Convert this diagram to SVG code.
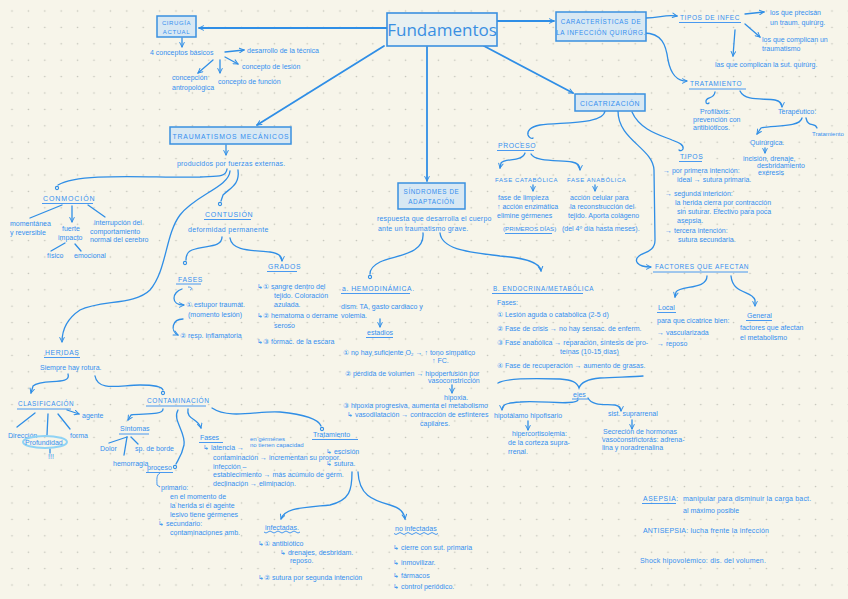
<svg xmlns="http://www.w3.org/2000/svg" width="848" height="599" viewBox="0 0 848 599">
<defs>
<pattern id="dots" x="3.8" y="2.8" width="16.4" height="16.4" patternUnits="userSpaceOnUse"><circle cx="8.2" cy="8.2" r="0.8" fill="#bfbfb6"/></pattern>
<marker id="ar" viewBox="0 0 8 8" refX="7" refY="4" markerWidth="6" markerHeight="6" orient="auto" markerUnits="userSpaceOnUse"><path d="M1,1 L7,4 L1,7" fill="none" stroke="#2f8ee6" stroke-width="1.3" stroke-linecap="round"/></marker>
<style>
.t{font-family:"Liberation Sans",Arial,sans-serif;font-size:7px;fill:#348ff0}
.c{font-family:"Liberation Sans",Arial,sans-serif;font-size:6.8px;fill:#348ff0;letter-spacing:0.6px}
.ln{stroke:#2f8ee6;stroke-width:1.3;fill:none;stroke-linecap:round}
.big{stroke:#2f8ee6;stroke-width:1.8;fill:none;stroke-linecap:round}
.ul{stroke:#348ff0;stroke-width:0.9;fill:none}
.box{fill:#d8e8f3;stroke:#3a90e0;stroke-width:1.5}
.dot{fill:none;stroke:#2f8ee6;stroke-width:1.1}
</style>
</defs>
<rect width="848" height="599" fill="#f7f5ea"/>
<rect width="848" height="599" fill="url(#dots)"/>

<g id="connectors">
<path class="big" d="M387,28 L199,28" marker-end="url(#ar)"/>
<path class="big" d="M384,46 L257,125" marker-end="url(#ar)"/>
<path class="big" d="M427,47 L427,181" marker-end="url(#ar)"/>
<path class="big" d="M484,46 L573,93" marker-end="url(#ar)"/>
<path class="big" d="M497,21 L554,21" marker-end="url(#ar)"/>
<path class="ln" d="M182,38 L182,47" marker-end="url(#ar)"/>
<path class="ln" d="M225,52 L244,50" marker-end="url(#ar)"/>
<path class="ln" d="M225,57 L238,64" marker-end="url(#ar)"/>
<path class="ln" d="M220,60 L220,73" marker-end="url(#ar)"/>
<path class="ln" d="M213,60 L198,73" marker-end="url(#ar)"/>
<path class="ln" d="M226,145 L226,155" marker-end="url(#ar)"/>
<path class="ln" d="M227,169 C226,178 215,176 200,177 C150,178 80,172 58,185"/>
<circle class="dot" cx="57" cy="188" r="1.6"/>
<path class="ln" d="M230,171 C229,187 195,195 180,215 C165,235 167,270 150,290 C135,305 100,300 80,310 C68,318 62,328 62,342" marker-end="url(#ar)"/>
<path class="ln" d="M238,170 C240,185 230,188 223,195 L221,201"/>
<circle class="dot" cx="220" cy="204" r="1.6"/>
<path class="ln" d="M62,205 L30,218"/>
<path class="ln" d="M72,206 L72,222" marker-end="url(#ar)"/>
<path class="ln" d="M88,205 L105,217"/>
<path class="ln" d="M65,243 L51,251"/>
<path class="ln" d="M75,244 L81,251"/>
<path class="ln" d="M222,237 C222,248 205,245 192,250 C187,252 186,256 186,260"/>
<circle class="dot" cx="185" cy="263" r="1.6"/>
<path class="ln" d="M230,238 C232,252 255,250 270,252 C278,253 282,256 282,261" marker-end="url(#ar)"/>
<path class="ln" d="M182,289 C172,292 170,305 184,305" marker-end="url(#ar)"/>
<path class="ln" d="M183,319 C172,319 170,331 178,335" marker-end="url(#ar)"/>
<path class="ln" d="M68,374 C72,386 42,378 33,386 L31,393" marker-end="url(#ar)"/>
<path class="ln" d="M95,376 C98,392 120,385 140,385 C155,385 162,387 163,390"/>
<circle class="dot" cx="163" cy="393" r="1.6"/>
<path class="ln" d="M35,413 L17,427"/>
<path class="ln" d="M48,414 L47,435"/>
<path class="ln" d="M58,414 L70,429"/>
<path class="ln" d="M67,410 L79,414" marker-end="url(#ar)"/>
<path class="ln" d="M50,449 L50,453"/>
<path class="ln" d="M163,409 C163,416 140,413 131,415 L128,420" marker-end="url(#ar)"/>
<path class="ln" d="M127,437 L109,443"/>
<path class="ln" d="M127,437 L124,455"/>
<path class="ln" d="M131,437 L138,444"/>
<path class="ln" d="M178,410 C172,420 186,432 184,445 C182,455 178,460 176,464"/>
<circle class="dot" cx="175" cy="467" r="1.6"/>
<path class="ln" d="M188,409 C186,420 198,418 201,428" marker-end="url(#ar)"/>
<path class="ln" d="M212,408 C230,420 260,410 280,412 C300,414 318,418 321,426"/>
<circle class="dot" cx="322" cy="429" r="1.6"/>
<path class="ln" d="M352,472 C352,490 350,500 330,505 C300,508 285,508 281,519" marker-end="url(#ar)"/>
<path class="ln" d="M358,472 C359,495 372,500 390,505 C400,508 404,512 405,519" marker-end="url(#ar)"/>
<path class="ln" d="M423,233 C425,255 395,255 380,262 C372,266 370,270 370,274"/>
<circle class="dot" cx="370" cy="277" r="1.6"/>
<path class="ln" d="M440,233 C442,250 470,252 500,256 C525,258 540,262 541,271" marker-end="url(#ar)"/>
<path class="ln" d="M380,319 L380,327" marker-end="url(#ar)"/>
<path class="ln" d="M452,385 L452,393" marker-end="url(#ar)"/>
<path class="ln" d="M498,383 C505,378 530,378 560,379 C572,380 577,382 579,388 C581,382 588,379 600,378 C620,377 635,377 643,376"/>
<path class="ln" d="M578,400 C575,406 540,400 520,402 C505,403 502,405 502,410" marker-end="url(#ar)"/>
<path class="ln" d="M588,398 C592,406 605,404 615,405 C620,406 621,408 621,411" marker-end="url(#ar)"/>
<path class="ln" d="M528,421 L528,430" marker-end="url(#ar)"/>
<path class="ln" d="M632,420 L632,429" marker-end="url(#ar)"/>
<path class="ln" d="M605,111 C603,125 560,122 540,125 C530,127 527,131 528,135 C529,138 532,139 533,138"/>
<path class="ln" d="M525,153 C522,162 505,158 501,163 L500,168" marker-end="url(#ar)"/>
<path class="ln" d="M531,154 C535,162 560,160 572,162 C578,163 580,166 580,170" marker-end="url(#ar)"/>
<path class="ln" d="M533,185 L533,191" marker-end="url(#ar)"/>
<path class="ln" d="M595,185 L595,191" marker-end="url(#ar)"/>
<path class="ln" d="M646,18 C660,18 665,14 677,16" marker-end="url(#ar)"/>
<path class="ln" d="M745,14 L764,12" marker-end="url(#ar)"/>
<path class="ln" d="M745,24 L760,37" marker-end="url(#ar)"/>
<path class="ln" d="M735,30 L733,56" marker-end="url(#ar)"/>
<path class="ln" d="M644,33 C662,33 666,45 668,60 C671,75 677,81 687,81" marker-end="url(#ar)"/>
<path class="ln" d="M715,92 C714,100 705,96 706,102 C706,104 708,104 709,103"/>
<path class="ln" d="M740,91 C745,102 765,98 775,100 C780,101 782,104 782,107" marker-end="url(#ar)"/>
<path class="ln" d="M802,118 C800,128 770,125 761,128 L757,134" marker-end="url(#ar)"/>
<path class="ln" d="M806,118 C808,128 815,122 817,128"/>
<path class="ln" d="M765,148 L765,153" marker-end="url(#ar)"/>
<path class="ln" d="M632,112 C640,130 660,135 672,140 C680,143 684,145 683,149 C682,151 680,151 679,150"/>
<path class="ln" d="M618,111 C618,140 653,148 654,170 L655,240 C655,252 644,252 639,256 C634,260 636,267 651,267" marker-end="url(#ar)"/>
<path class="ln" d="M707,276 C707,290 680,285 676,292 L675,297" marker-end="url(#ar)"/>
<path class="ln" d="M731,276 C733,295 752,290 755,300 L755,306" marker-end="url(#ar)"/>
</g>

<g id="fundamentos"><rect x="387" y="13" width="110" height="33" fill="#e8f0f1" stroke="#3a90e0" stroke-width="1.6"/><text x="442" y="36" text-anchor="middle" style="font-family:'Open Sans','Liberation Sans',sans-serif;font-size:17px;fill:#3a8fe2">Fundamentos</text></g>

<g id="cirugia"><rect class="box" x="157" y="16" width="39" height="21"/><text class="c" x="176.5" y="25" text-anchor="middle" style="font-size:6px">CIRUGÍA</text><text class="c" x="176.5" y="34" text-anchor="middle" style="font-size:6px">ACTUAL</text>
<text class="t" x="150" y="54.5">4 conceptos básicos</text>
<text class="t" x="247" y="53">desarrollo de la técnica</text>
<text class="t" x="242" y="68.5">concepto de lesión</text>
<text class="t" x="218" y="83.5">concepto de función</text>
<text class="t" x="172" y="80">concepción</text><text class="t" x="172" y="89.5">antropológica</text></g>

<g id="traumatismos"><rect class="box" x="170" y="127" width="121" height="17"/><text class="c" x="231" y="138.5" text-anchor="middle" style="letter-spacing:0.9px">TRAUMATISMOS MECÁNICOS</text>
<text class="t" x="177" y="165.5" style="letter-spacing:0.2px">producidos por fuerzas externas.</text></g>

<g id="conmocion"><text class="c" x="43" y="200.5" style="font-size:7px;letter-spacing:0.9px">CONMOCIÓN</text><path class="ul" d="M42,203.5 L93,203.5"/>
<text class="t" x="10" y="225.5">momentánea</text><text class="t" x="10" y="235">y reversible</text>
<text class="t" x="62" y="231">fuerte</text><text class="t" x="58" y="239.5">impacto</text>
<text class="t" x="47" y="258">físico</text><text class="t" x="74" y="258">emocional</text>
<text class="t" x="94" y="225">interrupción del</text><text class="t" x="90" y="233.5">comportamiento</text><text class="t" x="90" y="242">normal del cerebro</text></g>

<g id="contusion"><text class="c" x="205" y="216.5" style="font-size:7px;letter-spacing:0.7px">CONTUSIÓN</text><path class="ul" d="M204,219.5 L251,219.5"/>
<text class="t" x="188" y="231.5" style="letter-spacing:0.3px">deformidad permanente</text>
<text class="c" x="178" y="281.5">FASES</text><path class="ul" d="M176,284 L201,284"/><path class="ul" d="M188,287 C192,287 193,289 190,290"/>
<text class="t" x="186" y="307">① estupor traumát.</text><text class="t" x="188" y="317">(momento lesión)</text>
<text class="t" x="180" y="337.5">② resp. inflamatoria</text>
<text class="c" x="268" y="268.5">GRADOS</text><path class="ul" d="M267,271.5 L297,271.5"/>
<text class="t" x="257" y="288.5">↳① sangre dentro del</text><text class="t" x="274" y="297.5">tejido. Coloración</text><text class="t" x="274" y="306.5">azulada.</text>
<text class="t" x="257" y="318">↳② hematoma o derrame</text><text class="t" x="274" y="327.5">seroso</text>
<text class="t" x="257" y="344">↳③ formac. de la escara</text></g>

<g id="heridas"><text class="c" x="45" y="354.5">HERIDAS</text><path class="ul" d="M44,357.5 L80,357.5"/>
<text class="t" x="40" y="369.5">Siempre hay rotura.</text>
<text class="c" x="18" y="405.5" style="font-size:6.3px">CLASIFICACIÓN</text><path class="ul" d="M17,409 L71,409"/>
<text class="t" x="8" y="437.5">Dirección</text>
<ellipse cx="45" cy="442" rx="22" ry="6" fill="none" stroke="#8fd3f5" stroke-width="2"/>
<text class="t" x="25" y="444.5">Profundidad</text>
<text class="t" x="70" y="437.5">forma</text>
<text class="t" x="82" y="418">agente</text>
<text class="t" x="48" y="459">!!!</text></g>

<g id="contaminacion"><text class="c" x="147" y="402.5" style="font-size:6.5px">CONTAMINACIÓN</text><path class="ul" d="M146,406 L206,406"/>
<text class="t" x="120" y="431">Síntomas</text><path class="ul" d="M119,434 L149,434"/>
<text class="t" x="100" y="451">Dolor</text><text class="t" x="135" y="451">sp. de borde</text><text class="t" x="113" y="465.5">hemorragia</text>
<text class="t" x="147" y="469.5">proceso</text><path class="ul" d="M146,472.5 L173,472.5"/>
<path class="ul" d="M160,473 C156,475 157,480 157,485 L160,487"/>
<text class="t" x="161" y="489.5">primario:</text>
<text class="t" x="170" y="498.5">en el momento de</text><text class="t" x="170" y="507.5">la herida si el agente</text><text class="t" x="170" y="516.5">lesivo tiene gérmenes</text>
<text class="t" x="158" y="525.5">↳ secundario:</text><text class="t" x="170" y="534.5">contaminaciones amb.</text>
<text class="t" x="200" y="439.5">Fases</text><path class="ul" d="M199,442.5 L223,442.5"/>
<text class="t" x="203" y="449.5">↳ latencia →</text><text class="t" x="250" y="440.5" style="font-size:6px">en gérmenes</text><text class="t" x="250" y="447" style="font-size:6px">no tienen capacidad</text>
<text class="t" x="213" y="459.5">contaminación → incrementan su propor.</text>
<text class="t" x="213" y="468.5">infección –</text>
<text class="t" x="213" y="477">establecimiento → más acúmulo de gérm.</text>
<text class="t" x="213" y="485.5">declinación → eliminación.</text>
<text class="t" x="313" y="436.5">Tratamiento</text><path class="ul" d="M312,439.5 L358,439.5"/>
<text class="t" x="326" y="453.5">↳ escisión</text><text class="t" x="326" y="465.5">↳ sutura.</text>
<text class="t" x="265" y="529.5">infectadas.</text><path class="ul" d="M264,532 q2,2 4,0 t4,0 t4,0 t4,0 t4,0 t4,0 t4,0 t4,0 t4,0"/>
<text class="t" x="258" y="545.5">↳① antibiótico</text>
<text class="t" x="280" y="554.5">↳ drenajes, desbridam.</text><text class="t" x="290" y="562.5">reposo.</text>
<text class="t" x="258" y="579.5">↳② sutura por segunda intención</text>
<text class="t" x="395" y="530.5">no infectadas</text><path class="ul" d="M394,533.5 q2,2 4,0 t4,0 t4,0 t4,0 t4,0 t4,0 t4,0 t4,0 t4,0 t4,0 t4,0"/>
<text class="t" x="393" y="549.5">↳ cierre con sut. primaria</text>
<text class="t" x="393" y="564.5">↳ inmovilizar.</text>
<text class="t" x="393" y="577.5">↳ fármacos</text>
<text class="t" x="393" y="588.5">↳ control periódico.</text></g>

<g id="sindromes"><rect class="box" x="398" y="183" width="67" height="26"/><text class="c" x="431.5" y="194" text-anchor="middle" style="font-size:6.3px">SÍNDROMES DE</text><text class="c" x="431.5" y="204" text-anchor="middle" style="font-size:6.3px">ADAPTACIÓN</text>
<text class="t" x="377" y="220.5" style="letter-spacing:0.2px">respuesta que desarrolla el cuerpo</text><text class="t" x="378" y="230.5" style="letter-spacing:0.2px">ante un traumatismo grave.</text></g>

<g id="hemodinamica"><text class="c" x="342" y="290.5">a. HEMODINÁMICA.</text><path class="ul" d="M341,293.5 L410,293.5"/>
<text class="t" x="341" y="309">dism. TA, gasto cardiaco y</text><text class="t" x="341" y="317.5">volemia.</text>
<text class="t" x="367" y="334.5">estadios</text><path class="ul" d="M366,337.5 L393,337.5"/>
<text class="t" x="343" y="354.5">① no hay suficiente O₂ → ↑ tono simpático</text><text class="t" x="432" y="362.5">↑ FC.</text>
<text class="t" x="345" y="375.5">② pérdida de volumen → hipoperfusión por</text><text class="t" x="428" y="383">vasoconstricción</text>
<text class="t" x="444" y="399.5">hipoxia.</text>
<text class="t" x="343" y="407.5">③ hipoxia progresiva, aumenta el metabolismo</text>
<text class="t" x="347" y="417">↳ vasodilatación → contracción de esfínteres</text><text class="t" x="420" y="425.5">capilares.</text></g>

<g id="endocrina"><text class="c" x="493" y="290.5" style="font-size:6.3px">B. ENDOCRINA/METABÓLICA</text><path class="ul" d="M492,293.5 L583,293.5"/>
<text class="t" x="497" y="304.5">Fases:</text>
<text class="t" x="497" y="316.5">① Lesión aguda o catabólica (2-5 d)</text>
<text class="t" x="497" y="330.5">② Fase de crisis → no hay sensac. de enferm.</text>
<text class="t" x="497" y="345">③ Fase anabólica → reparación, síntesis de pro-</text><text class="t" x="560" y="353.5">teínas (10-15 días)</text>
<text class="t" x="497" y="367.5">④ Fase de recuperación → aumento de grasas.</text>
<text class="t" x="573" y="396.5">ejes</text><path class="ul" d="M572,399 L588,399"/>
<text class="t" x="494" y="417.5">hipotálamo hipofisario</text>
<text class="t" x="512" y="436">hipercortisolemia:</text><text class="t" x="508" y="445">de la corteza supra-</text><text class="t" x="508" y="454">rrenal.</text>
<text class="t" x="608" y="415.5">sist. suprarrenal</text>
<text class="t" x="603" y="434">Secreción de hormonas</text><text class="t" x="602" y="442">vasoconstrictoras: adrena-</text><text class="t" x="602" y="450">lina y noradrenalina</text></g>

<g id="caracteristicas"><rect class="box" x="556" y="12" width="90" height="29"/><text class="c" x="601" y="23.5" text-anchor="middle" style="font-size:6.3px">CARACTERÍSTICAS DE</text><text class="c" x="601" y="35" text-anchor="middle" style="font-size:6.3px">LA INFECCIÓN QUIRÚRG.</text>
<text class="c" x="680" y="19.5" style="font-size:6.5px">TIPOS DE INFEC</text><path class="ul" d="M679,22.5 L741,22.5"/>
<text class="t" x="770" y="15">los que precisan</text><text class="t" x="770" y="25">un traum. quirúrg.</text>
<text class="t" x="762" y="42">los que complican un</text><text class="t" x="762" y="51">traumatismo</text>
<text class="t" x="715" y="66.5">las que complican la sut. quirúrg.</text>
<text class="c" x="690" y="86" style="font-size:6.5px">TRATAMIENTO</text><path class="ul" d="M689,89 L746,89"/>
<text class="t" x="700" y="114">Profilaxis:</text><text class="t" x="693" y="122">prevención con</text><text class="t" x="693" y="130">antibióticos.</text>
<text class="t" x="778" y="114">Terapéutico:</text>
<text class="t" x="750" y="144.5">Quirúrgica.</text><text class="t" x="812" y="136" style="font-size:6px">Tratamiento</text>
<text class="t" x="743" y="160.5">incisión, drenaje,</text><text class="t" x="757" y="167.5">desbridamiento</text><text class="t" x="758" y="175">exéresis</text></g>

<g id="cicatrizacion"><rect class="box" x="575" y="94" width="70" height="17"/><text class="c" x="610" y="105.5" text-anchor="middle">CICATRIZACIÓN</text>
<text class="c" x="498" y="147.5">PROCESO</text><path class="ul" d="M497,150.5 L534,150.5"/>
<text class="c" x="495" y="181.5" style="font-size:6px">FASE CATABÓLICA</text><text class="c" x="567" y="181.5" style="font-size:6px">FASE ANABÓLICA</text>
<text class="t" x="498" y="199.5">fase de limpieza</text><text class="t" x="497" y="208.5">↑ acción enzimática</text><text class="t" x="497" y="218">elimine gérmenes</text>
<text class="t" x="503" y="230.5" style="font-size:6.2px">(PRIMEROS DÍAS)</text><path class="ul" d="M505,233.5 L552,233.5"/>
<text class="t" x="570" y="199.5">acción celular para</text><text class="t" x="570" y="208.5">la reconstrucción del</text><text class="t" x="568" y="218">tejido. Aporta colágeno</text><text class="t" x="562" y="230.5">(del 4º día hasta meses).</text>
<text class="c" x="680" y="158.5">TIPOS</text><path class="ul" d="M679,161.5 L702,161.5"/>
<text class="t" x="663" y="172.5">→ por primera intención:</text><text class="t" x="677" y="181.5">ideal → sutura primaria.</text>
<text class="t" x="665" y="195.5">→ segunda intención:</text><text class="t" x="675" y="204.5">la herida cierra por contracción</text><text class="t" x="677" y="213.5">sin suturar. Efectivo para poca</text><text class="t" x="677" y="222.5">asepsia.</text>
<text class="t" x="665" y="232.5">→ tercera intención:</text><text class="t" x="678" y="241.5">sutura secundaria.</text>
<text class="c" x="655" y="268.5" style="font-size:6.5px">FACTORES QUE AFECTAN</text><path class="ul" d="M653,272 L748,272"/>
<text class="t" x="658" y="309.5">Local</text><path class="ul" d="M657,312.5 L676,312.5"/>
<text class="t" x="657" y="322.5">para que cicatrice bien:</text><text class="t" x="657" y="334.5">→ vascularizada</text><text class="t" x="657" y="345.5">→ reposo</text>
<text class="t" x="747" y="317.5">General</text><path class="ul" d="M746,320.5 L772,320.5"/>
<text class="t" x="740" y="329.5">factores que afectan</text><text class="t" x="740" y="339.5">el metabolismo</text></g>

<g id="definiciones"><text class="c" x="643" y="500.5">ASEPSIA:</text><path class="ul" d="M642,503.5 L676,503.5"/>
<text class="t" x="683" y="500.5" style="letter-spacing:0.2px">manipular para disminuir la carga bact.</text><text class="t" x="683" y="512.5">al máximo posible</text>
<text class="t" x="643" y="532.5" style="letter-spacing:0.2px">ANTISEPSIA: lucha frente la infección</text>
<text class="t" x="640" y="562.5" style="letter-spacing:0.2px">Shock hipovolémico: dis. del volumen.</text></g>
</svg>
